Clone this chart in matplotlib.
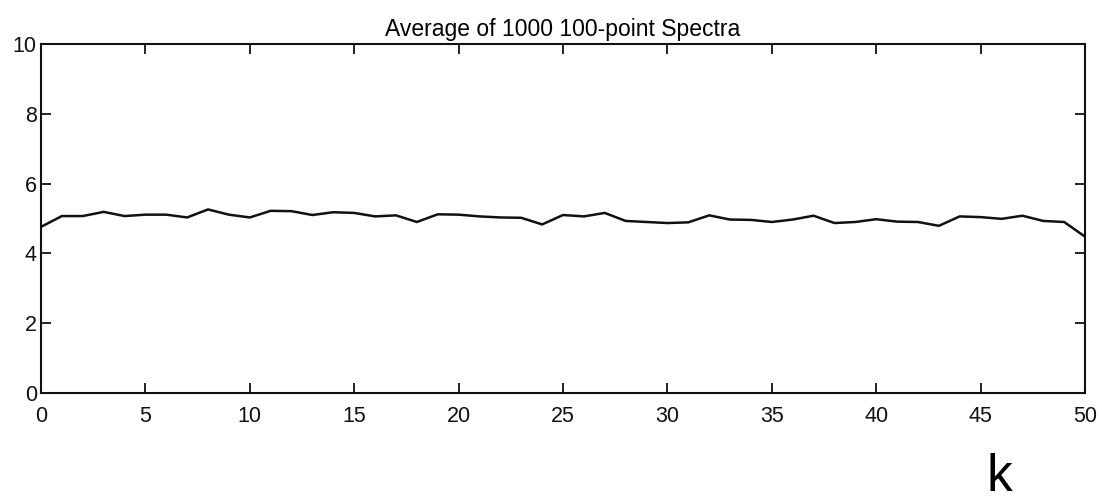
"""Average of 1000 100-point spectra, recreated as a plain line plot."""

import matplotlib
matplotlib.use("Agg")
import matplotlib.pyplot as plt
import numpy as np

K = np.arange(0, 51)
AVG_SPECTRUM = [
    4.76, 5.07, 5.07, 5.19, 5.07, 5.11, 5.11, 5.03, 5.26, 5.11,
    5.03, 5.22, 5.21, 5.10, 5.18, 5.16, 5.06, 5.09, 4.90, 5.12,
    5.11, 5.06, 5.03, 5.02, 4.83, 5.10, 5.06, 5.16, 4.93, 4.90,
    4.87, 4.89, 5.09, 4.97, 4.96, 4.90, 4.97, 5.08, 4.87, 4.90,
    4.98, 4.91, 4.90, 4.79, 5.06, 5.04, 4.99, 5.08, 4.93, 4.90,
    4.48,
]
X_TICKS = list(range(0, 51, 5))
Y_TICKS = list(range(0, 11, 2))

plt.rcParams["font.family"] = ["Liberation Sans", "DejaVu Sans"]

fig = plt.figure(figsize=(11.02, 5.0), dpi=100)
ax = fig.add_axes([0.0372, 0.214, 0.9474, 0.698])

ax.plot(K, AVG_SPECTRUM, color="#111111", linewidth=1.8)

ax.set_xlim(0, 50)
ax.set_ylim(0, 10)
ax.set_xticks(X_TICKS)
ax.set_yticks(Y_TICKS)
ax.tick_params(direction="in", length=7, width=1.3, top=True, right=True,
               labelsize=15.5, colors="#111111")
ax.tick_params(axis="x", pad=9)
ax.tick_params(axis="y", pad=3)
for spine in ax.spines.values():
    spine.set_linewidth(1.5)
    spine.set_color("#111111")

ax.set_title("Average of 1000 100-point Spectra", fontsize=16.5, pad=6)
fig.text(0.907, -0.004, "k", fontsize=37, ha="center", va="bottom")

fig.savefig("out.png", facecolor="white")
